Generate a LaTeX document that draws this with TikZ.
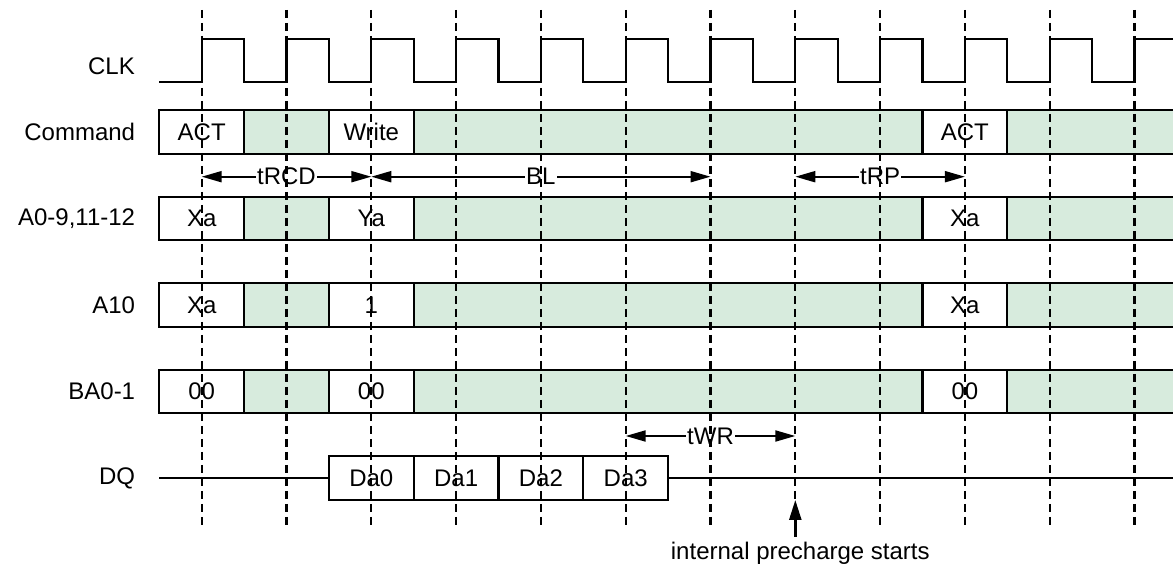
\documentclass[tikz,border=0pt]{standalone}
\usepackage{fontspec}
\setmainfont{Liberation Sans}
\usepackage{tikz}
\usetikzlibrary{arrows.meta,positioning}
\definecolor{idlegreen}{RGB}{215,235,221}
\tikzstyle{cell} = [rectangle, draw, fill=white, line width=2.2pt,
    minimum width=84.8pt, minimum height=43.5pt, inner sep=0pt, outer sep=0pt, text centered]
\tikzstyle{band} = [draw, fill=idlegreen, line width=2.2pt]
\tikzstyle{signame} = [anchor=east, inner sep=0pt]
\tikzstyle{grid} = [draw, line width=2.2pt, dash pattern=on 8pt off 5pt]
\tikzstyle{wave} = [draw, line width=2.2pt, line join=miter]
\tikzset{
  span/.style ={draw, line width=2pt, {Triangle[length=20pt,width=11pt]}-{Triangle[length=20pt,width=11pt]}},
  spanlabel/.style ={fill=white, inner sep=1pt},
  rise/.style ={draw, line width=2.4pt, -{Triangle[length=20pt,width=12pt]}}
}
\begin{document}
\begin{tikzpicture}[x=1pt, y=1pt, font=\fontsize{24}{28}\selectfont]
   \useasboundingbox (0,0) rectangle (1173,565);
   % clock
   \coordinate (clk_start) at (159.3,483);
   \draw [wave] (clk_start) \foreach \k in {0,...,11} {
      -- (201.7+84.8*\k,483) -- ++(0,43) -- ++(42.4,0) -- ++(0,-43) };
   \node [signame] (clk_name) at (135,498.5) {CLK};
   % idle bus stretches
   \foreach \y in {433,346.5,260,173.5}
      \path [band] (159.3,\y-21.75) rectangle (1180,\y+21.75);
   % Command
   \node [cell] at (201.7,433) (cmd_act) {ACT};
   \node [cell,right of=cmd_act,node distance=169.6pt] (cmd_wr) {Write};
   \node [cell,right of=cmd_wr,node distance=593.6pt] (cmd_act2) {ACT};
   \node [signame,left=24pt of cmd_act] (cmd_name) {Command};
   % A0-9,11-12
   \node [cell] at (201.7,346.5) (addr_xa) {Xa};
   \node [cell,right of=addr_xa,node distance=169.6pt] (addr_ya) {Ya};
   \node [cell,right of=addr_ya,node distance=593.6pt] (addr_xa2) {Xa};
   \node [signame,left=24pt of addr_xa] (addr_name) {A0-9,11-12};
   % A10
   \node [cell] at (201.7,260) (aten_xa) {Xa};
   \node [cell,right of=aten_xa,node distance=169.6pt] (aten_one) {1};
   \node [cell,right of=aten_one,node distance=593.6pt] (aten_xa2) {Xa};
   \node [signame,left=24pt of aten_xa] (aten_name) {A10};
   % BA0-1
   \node [cell] at (201.7,173.5) (bank_a) {00};
   \node [cell,right of=bank_a,node distance=169.6pt] (bank_b) {00};
   \node [cell,right of=bank_b,node distance=593.6pt] (bank_c) {00};
   \node [signame,left=24pt of bank_a] (bank_name) {BA0-1};
   % DQ
   \coordinate (dq_start) at (159.3,87);
   \coordinate (dq_end) at (1173,87);
   \node [cell] at (371.3,87) (dq_0) {Da0};
   \node [cell,right of=dq_0,node distance=84.8pt] (dq_1) {Da1};
   \node [cell,right of=dq_1,node distance=84.8pt] (dq_2) {Da2};
   \node [cell,right of=dq_2,node distance=84.8pt] (dq_3) {Da3};
   \node [signame,left=24pt of dq_start] (dq_name) {DQ};
   \path [wave] (dq_start) -- (dq_0.west);
   \path [wave] (dq_3.east) -- (dq_end);
   % timing spans
   \coordinate (rcd_a) at (201.7,388.3);
   \coordinate (rcd_b) at (371.3,388.3);
   \coordinate (bl_b) at (710.5,388.3);
   \coordinate (rp_a) at (795.3,388.3);
   \coordinate (rp_b) at (964.9,388.3);
   \coordinate (wr_a) at (625.7,129);
   \coordinate (wr_b) at (795.3,129);
   \path [span] (rcd_a) -- node [spanlabel] {tRCD} (rcd_b);
   \path [span] (rcd_b) -- node [spanlabel] {BL} (bl_b);
   \path [span] (rp_a) -- node [spanlabel] {tRP} (rp_b);
   \path [span] (wr_a) -- node [spanlabel] {tWR} (wr_b);
   % clock edges
   \foreach \k in {0,...,6,8,9,10,11}
      \path [grid] (201.7+84.8*\k,555) -- (201.7+84.8*\k,40);
   \coordinate (pre_top) at (795.3,555);
   \coordinate (pre_tip) at (795.3,65);
   \coordinate (pre_tail) at (795.3,28);
   \path [grid] (pre_top) -- (pre_tip);
   \path [rise] (pre_tail) -- (pre_tip);
   \node [below=5pt of pre_tail,inner sep=0pt,xshift=5pt] (pre_text) {internal precharge starts};
\end{tikzpicture}
\end{document}
